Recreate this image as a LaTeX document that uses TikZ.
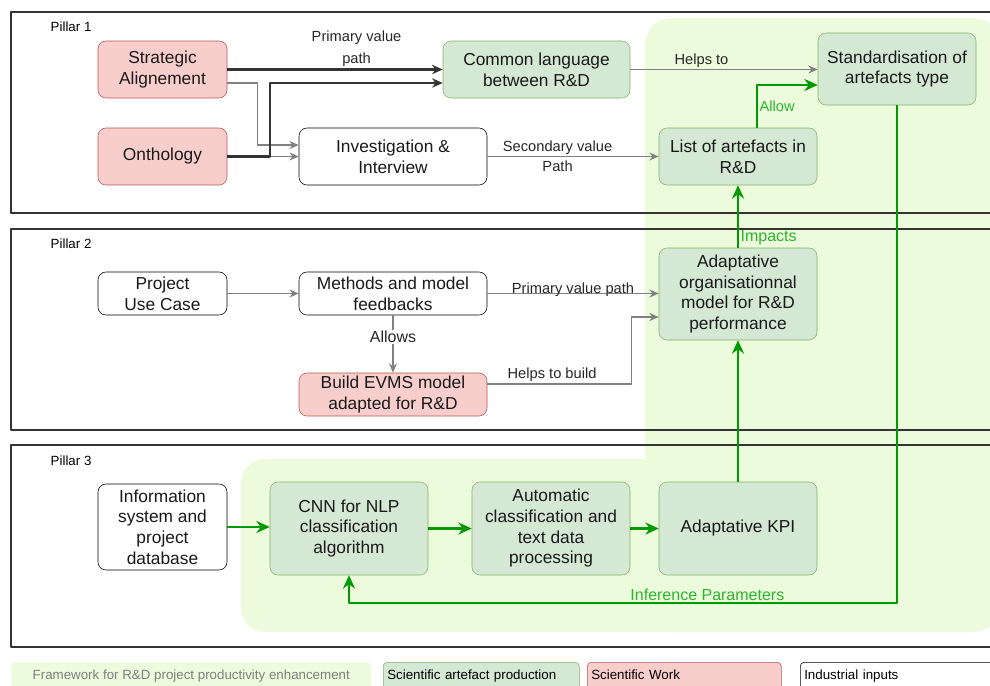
\documentclass[tikz,border=0pt]{standalone}
\usepackage{fontspec}
\setmainfont{Liberation Sans}
\usetikzlibrary{arrows.meta}
\definecolor{artefill}{HTML}{D5E8D4}
\definecolor{artedraw}{HTML}{82B366}
\definecolor{workfill}{HTML}{F8CECC}
\definecolor{workdraw}{HTML}{B85450}
\definecolor{framefill}{HTML}{EBFBDC}
\definecolor{flowgreen}{HTML}{009900}
\definecolor{labelgreen}{HTML}{2DB52D}
\tikzset{
  box/.style={rounded corners=6pt, align=center, inner sep=2pt, text=black!90, font=\fontsize{13}{15.5}\selectfont},
  artefact/.style={box, fill=artefill, draw=artedraw},
  work/.style={box, fill=workfill, draw=workdraw},
  industrial/.style={box, fill=white, draw=black},
  greyflow/.style={-{Stealth[length=7pt,width=6pt]}, draw=gray, line width=1.1pt},
  darkflow/.style={-{Stealth[length=8pt,width=7pt]}, draw=black!80, line width=1.8pt},
  greenflow/.style={-{Stealth[length=10pt,width=9pt]}, draw=flowgreen, line width=2pt},
  flowlabel/.style={font=\fontsize{11}{13}\selectfont, text=black!85, inner sep=1pt},
  greenlabel/.style={font=\fontsize{12}{14}\selectfont, text=labelgreen, inner sep=1pt},
  pillar/.style={draw=black!80, line width=1.2pt},
  pillarname/.style={anchor=west, font=\fontsize{10}{12}\selectfont},
  legend/.style={anchor=north west, minimum height=21pt, inner sep=3pt, text height=7.5pt, text depth=2pt, rounded corners=3pt, font=\fontsize{10}{12}\selectfont}
}
\begin{document}
\begin{tikzpicture}[x=0.75pt, y=-0.75pt, line join=round]
  \useasboundingbox (0,0) rectangle (990,686);
  \clip (0,0) rectangle (990,686);
  \fill[framefill, rounded corners=20pt] (645,18) rectangle (1000,632);
  \fill[framefill, rounded corners=18pt] (241,459) rectangle (992,632);
  \draw[pillar] (11,12) rectangle (1005,213);
  \draw[pillar] (11,229) rectangle (1005,430);
  \draw[pillar] (11,445) rectangle (1005,647);
  \node[pillarname] (p1) at (46,27) {Pillar 1};
  \node[pillarname] (p2) at (46,244) {Pillar 2};
  \node[pillarname] (p3) at (46,461) {Pillar 3};

  \node[work, minimum width=96.75pt, minimum height=42.75pt] (sa) at (162.5,69.5) {Strategic\\Alignement};
  \node[work, minimum width=96.75pt, minimum height=42.75pt] (onto) at (162.5,156.5) {Onthology};
  \node[artefact, minimum width=140.25pt, minimum height=42.75pt] (lang) at (536.5,69.5) {Common language\\between R\&D};
  \node[industrial, minimum width=141pt, minimum height=42.75pt] (invest) at (393,156.5) {Investigation \&\\Interview};
  \node[artefact, minimum width=118.5pt, minimum height=54pt] (std) at (897,69) {Standardisation of\\artefacts type};
  \node[artefact, minimum width=118.5pt, minimum height=42.75pt] (list) at (738,156.5) {List of artefacts in\\R\&D};

  \node[industrial, minimum width=96.75pt, minimum height=32.25pt] (usecase) at (162.5,293.5) {Project\\Use Case};
  \node[industrial, minimum width=141pt, minimum height=32.25pt] (methods) at (393,293.5) {Methods and model\\feedbacks};
  \node[work, minimum width=141pt, minimum height=32.25pt] (evms) at (393,394.5) {Build EVMS model\\adapted for R\&D};
  \node[artefact, minimum width=118.5pt, minimum height=69pt] (orgmodel) at (738,294) {Adaptative\\organisationnal\\model for R\&D\\performance};

  \node[industrial, minimum width=96.75pt, minimum height=64.5pt] (infosys) at (162.5,527) {Information\\system and\\project\\database};
  \node[artefact, minimum width=118.5pt, minimum height=69.75pt] (cnn) at (349,528.5) {CNN for NLP\\classification\\algorithm};
  \node[artefact, minimum width=118.5pt, minimum height=69.75pt] (autoclass) at (551,528.5) {Automatic\\classification and\\text data\\processing};
  \node[artefact, minimum width=118.5pt, minimum height=69.75pt] (kpi) at (738,528.5) {Adaptative KPI};
  \coordinate (loopcorner) at (897,603);

  \draw[greyflow] ([yshift=-10.1pt]sa.east) -- ++(30,0) |- ([yshift=8.6pt]invest.west);
  \draw[greyflow] (onto.east) -- (invest.west);
  \draw[darkflow] (sa.east) -- (sa.east -| lang.west) node[flowlabel, above, pos=0.6, align=center, font=\fontsize{11}{16.5}\selectfont] {Primary value\\path};
  \draw[darkflow] (onto.east) -- ++(43,0) |- ([yshift=-10.1pt]lang.west);
  \draw[greyflow] (lang.east) -- (lang.east -| std.west) node[flowlabel, above, pos=0.38] {Helps to};
  \draw[greyflow] (invest.east) -- (list.west)
    node[flowlabel, above, pos=0.41] {Secondary value} node[flowlabel, below, pos=0.41, yshift=-2pt] {Path};
  \draw[greenflow] ([xshift=14.25pt]list.north) |- ([yshift=-12pt]std.west) node[greenlabel, right, pos=0.25, font=\fontsize{11}{13}\selectfont] {Allow};

  \draw[greyflow] (usecase.east) -- (methods.west);
  \draw[greyflow] (methods.east) -- (methods.east -| orgmodel.west) node[flowlabel, pos=0.5, yshift=3pt] {Primary value path};
  \draw[greyflow] (methods.south) -- (evms.north) node[flowlabel, fill=white, pos=0.38, font=\fontsize{12}{14}\selectfont] {Allows};
  \draw[greyflow] ([yshift=7.9pt]evms.east) -- ++(144,0) node[flowlabel, above, pos=0.45] {Helps to build} |- ([yshift=-17.25pt]orgmodel.west);
  \draw[greenflow] (orgmodel.north) -- (list.south) node[greenlabel, above right, pos=0] {Impacts};

  \draw[greenflow] (kpi.north) -- (orgmodel.south);
  \draw[greenflow] (infosys.east) -- (infosys.east -| cnn.west);
  \draw[greenflow] (cnn.east) -- (autoclass.west);
  \draw[greenflow] (autoclass.east) -- (kpi.west);
  \draw[greenflow] (std.south) -- (loopcorner) -| (cnn.south) node[greenlabel, above, pos=0.173] {Inference Parameters};

  \node[legend, fill=framefill, minimum width=270pt, text=gray] (lgframe) at (11,662) {Framework for R\&D project productivity enhancement};
  \node[legend, fill=artefill, draw=artedraw, minimum width=147pt, text width=141pt] (lgartefact) at (383,662) {Scientific artefact production};
  \node[legend, fill=workfill, draw=workdraw, minimum width=145.5pt, text width=139.5pt] (lgwork) at (587,662) {Scientific Work};
  \node[legend, fill=white, draw=black, minimum width=150pt, text width=144pt] (lginput) at (800,662) {Industrial inputs};
\end{tikzpicture}
\end{document}
